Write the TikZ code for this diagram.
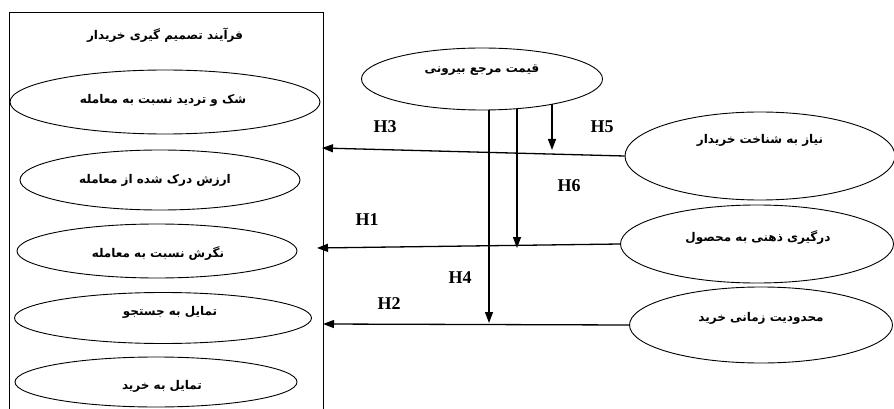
\documentclass[tikz,border=0pt]{standalone}
\usepackage{fontspec}
\setmainfont{Liberation Serif}
\newfontfamily\fa[Script=Arabic]{DejaVu Sans}
\TeXXeTstate=1
\usetikzlibrary{shapes.geometric, arrows.meta}
\begin{document}
\begin{tikzpicture}[x=1pt,y=-1pt,
  ell/.style={draw, ellipse, line width=0.9pt, inner sep=0pt},
  fatxt/.style={font=\fa\bfseries\fontsize{12}{14}\selectfont, inner sep=0pt},
  hlab/.style={font=\bfseries\fontsize{18}{21}\selectfont, inner sep=0pt},
  arr/.style={line width=1.3pt, -{Triangle[length=11pt,width=8pt]}}
]
\useasboundingbox (0,0) rectangle (894,409);
% left box
\node[draw, line width=1pt, minimum width=314pt, minimum height=430pt, anchor=north west, inner sep=0pt] (box) at (9,12) {};
\node[fatxt] (title) at (165,35) {\beginR فرآیند تصمیم گیری خریدار\endR};
\node[ell, minimum width=310pt, minimum height=64pt] (e1) at (165,102) {};
\node[fatxt] (t1) at (163,100) {\beginR شک و تردید نسبت به معامله\endR};
\node[ell, minimum width=280pt, minimum height=60pt] (e2) at (160,180) {};
\node[fatxt] (t2) at (155,180) {\beginR ارزش درک شده از معامله\endR};
\node[ell, minimum width=280pt, minimum height=54pt] (e3) at (157,251) {};
\node[fatxt] (t3) at (158,254) {\beginR نگرش نسبت به معامله\endR};
\node[ell, minimum width=297pt, minimum height=51pt] (e4) at (163,318) {};
\node[fatxt] (t4) at (170,312) {\beginR تمایل به جستجو\endR};
\node[ell, minimum width=282pt, minimum height=50pt] (e5) at (156,382) {};
\node[fatxt] (t5) at (162,386) {\beginR تمایل به خرید\endR};
% top ellipse
\node[ell, minimum width=241pt, minimum height=62pt] (ref) at (482,79) {};
\node[fatxt] (tref) at (482,70) {\beginR قیمت مرجع بیرونی\endR};
% right ellipses
\node[ell, minimum width=270pt, minimum height=88pt] (need) at (760,156) {};
\node[fatxt] (tneed) at (760,140) {\beginR نیاز به شناخت خریدار\endR};
\node[ell, minimum width=273pt, minimum height=78pt] (inv) at (757,244) {};
\node[fatxt] (tinv) at (758,238) {\beginR درگیری ذهنی به محصول\endR};
\node[ell, minimum width=263pt, minimum height=76pt] (time) at (761,325) {};
\node[fatxt] (ttime) at (761,318) {\beginR محدودیت زمانی خرید\endR};
% coordinates
\coordinate (h3end) at (322,148);
\coordinate (h1end) at (317,248);
\coordinate (h2end) at (323,324);
\coordinate (h5s) at (552,104);
\coordinate (h5e) at (552,150);
\coordinate (h6s) at (517,109);
\coordinate (h6e) at (517,248);
\coordinate (h4s) at (489,110);
\coordinate (h4e) at (489,323);
% arrows
\draw[arr] (need.west) -- (h3end);
\draw[arr] (inv.west) -- (h1end);
\draw[arr] (time.west) -- (h2end);
\draw[arr] (h5s) -- (h5e);
\draw[arr] (h6s) -- (h6e);
\draw[arr] (h4s) -- (h4e);
% labels
\node[hlab] (l3) at (385,127) {H3};
\node[hlab] (l5) at (602,127) {H5};
\node[hlab] (l6) at (569,186) {H6};
\node[hlab] (l1) at (367,220) {H1};
\node[hlab] (l4) at (460,278) {H4};
\node[hlab] (l2) at (389,304) {H2};
\end{tikzpicture}
\end{document}
